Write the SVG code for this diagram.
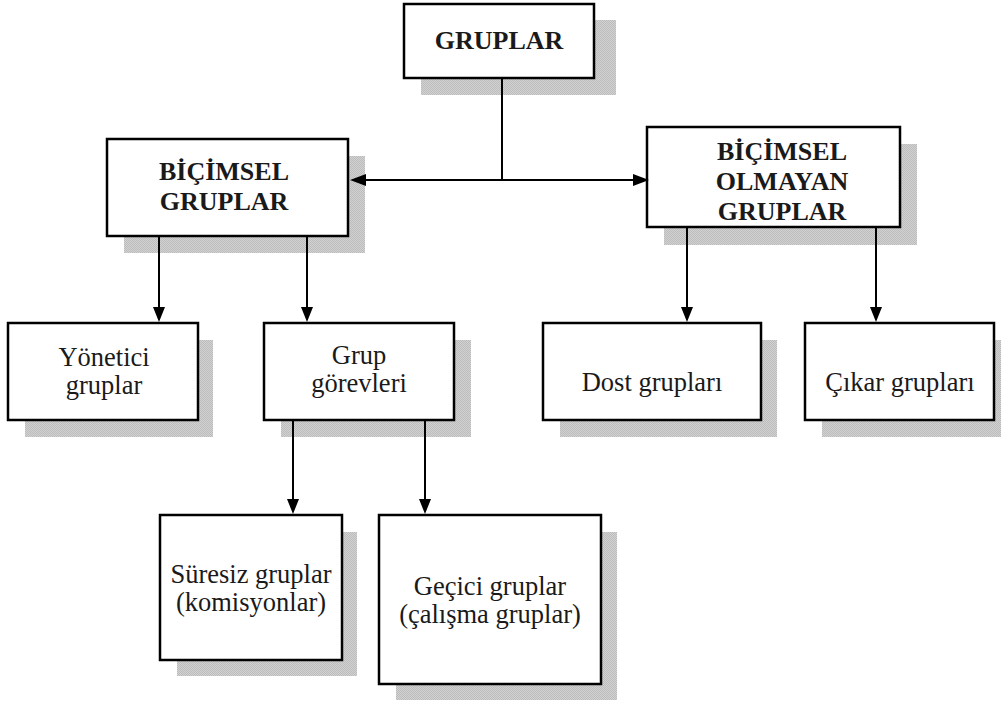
<svg xmlns="http://www.w3.org/2000/svg" width="1001" height="703" viewBox="0 0 1001 703">
<defs>
<pattern id="chk" width="2" height="2" patternUnits="userSpaceOnUse">
<rect width="2" height="2" fill="#d2d2d2"/>
<rect width="1" height="1" fill="#bcbcbc"/>
<rect x="1" y="1" width="1" height="1" fill="#bcbcbc"/>
</pattern>
<style>
.sh{fill:url(#chk);}
.bx{fill:#fff;stroke:#000;stroke-width:2.5;}
.tb{font-family:'Liberation Serif','Times New Roman',Tinos,'DejaVu Serif',serif;font-weight:bold;font-size:26px;fill:#1a1a1a;text-anchor:middle;}
.tr{font-family:'Liberation Serif','Times New Roman',Tinos,'DejaVu Serif',serif;font-size:26.5px;fill:#1a1a1a;text-anchor:middle;}
.ln{fill:none;stroke:#000;stroke-width:2;}
.ah{fill:#000;}
</style>
</defs>
<rect width="1001" height="703" fill="#fff"/>

<g id="gruplar">
<rect class="sh" x="421" y="20" width="195" height="75"/>
<rect class="bx" x="404" y="4" width="190" height="74"/>
<text class="tb" x="499" y="49">GRUPLAR</text>
</g>

<g id="bicimsel">
<rect class="sh" x="124" y="156" width="241" height="97"/>
<rect class="bx" x="107" y="139" width="241" height="97"/>
<text class="tb" x="224" y="180">BİÇİMSEL</text>
<text class="tb" x="224" y="210">GRUPLAR</text>
</g>

<g id="bicimsel-olmayan">
<rect class="sh" x="664" y="144" width="253" height="101"/>
<rect class="bx" x="647" y="127" width="253" height="100"/>
<text class="tb" x="782" y="160">BİÇİMSEL</text>
<text class="tb" x="782" y="190">OLMAYAN</text>
<text class="tb" x="782" y="220">GRUPLAR</text>
</g>

<g id="yonetici">
<rect class="sh" x="25" y="340" width="188" height="97"/>
<rect class="bx" x="8" y="323" width="190" height="97"/>
<text class="tr" x="104" y="366">Yönetici</text>
<text class="tr" x="104" y="394">gruplar</text>
</g>

<g id="grup-gorevleri">
<rect class="sh" x="281" y="340" width="190" height="97"/>
<rect class="bx" x="264" y="323" width="190" height="97"/>
<text class="tr" x="359" y="364">Grup</text>
<text class="tr" x="359" y="392">görevleri</text>
</g>

<g id="dost">
<rect class="sh" x="560" y="340" width="217" height="97"/>
<rect class="bx" x="543" y="323" width="218" height="97"/>
<text class="tr" x="652" y="391">Dost grupları</text>
</g>

<g id="cikar">
<rect class="sh" x="822" y="340" width="179" height="97"/>
<rect class="bx" x="805" y="323" width="189" height="97"/>
<text class="tr" x="900" y="391">Çıkar grupları</text>
</g>

<g id="suresiz">
<rect class="sh" x="177" y="532" width="180" height="144"/>
<rect class="bx" x="160" y="515" width="182" height="145"/>
<text class="tr" x="251" y="583">Süresiz gruplar</text>
<text class="tr" x="251" y="611">(komisyonlar)</text>
</g>

<g id="gecici">
<rect class="sh" x="396" y="532" width="221" height="168"/>
<rect class="bx" x="379" y="515" width="222" height="169"/>
<text class="tr" x="490" y="595">Geçici gruplar</text>
<text class="tr" x="490" y="623">(çalışma gruplar)</text>
</g>

<g id="connectors">
<line class="ln" x1="502" y1="79" x2="502" y2="180"/>
<line class="ln" x1="362" y1="180" x2="637" y2="180"/>
<path class="ah" d="M350,180 L366,174 L366,186 Z"/>
<path class="ah" d="M649,180 L633,174 L633,186 Z"/>
<line class="ln" x1="159" y1="237" x2="159" y2="312"/>
<path class="ah" d="M159,322 L153,307 L165,307 Z"/>
<line class="ln" x1="307" y1="237" x2="307" y2="312"/>
<path class="ah" d="M307,322 L301,307 L313,307 Z"/>
<line class="ln" x1="687" y1="228" x2="687" y2="312"/>
<path class="ah" d="M687,322 L681,307 L693,307 Z"/>
<line class="ln" x1="876" y1="228" x2="876" y2="312"/>
<path class="ah" d="M876,322 L870,307 L882,307 Z"/>
<line class="ln" x1="293" y1="421" x2="293" y2="504"/>
<path class="ah" d="M293,514 L287,499 L299,499 Z"/>
<line class="ln" x1="425" y1="421" x2="425" y2="504"/>
<path class="ah" d="M425,514 L419,499 L431,499 Z"/>
</g>
</svg>
